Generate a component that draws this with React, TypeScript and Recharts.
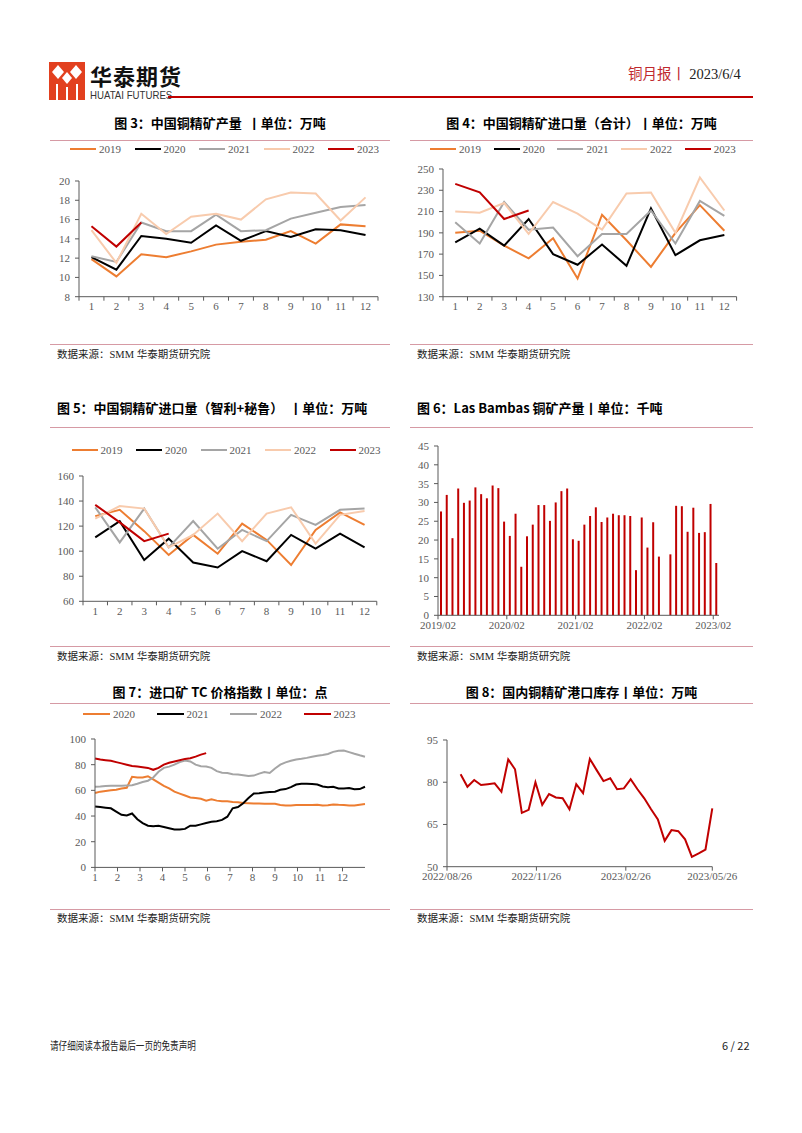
import React from 'react';
import { LineChart, Line, BarChart, Bar, XAxis, YAxis } from 'recharts';

const SERIF = '"Liberation Serif", "Times New Roman", serif';
const SANS = '"Noto Sans CJK SC", "Noto Sans", sans-serif';
const AXIS = '#595959';
const TICK = { fontFamily: SERIF, fontSize: 11, fill: '#595959' };

const monthLabels = ['1', '2', '3', '4', '5', '6', '7', '8', '9', '10', '11', '12'];
const yearNames = ['2019', '2020', '2021', '2022', '2023'];
const yearColors = ['#ED7D31', '#000000', '#A5A5A5', '#F8CBAD', '#C00000'];

// 图3 中国铜精矿产量（万吨）
const output2019 = [11.9, 10.1, 12.4, 12.1, 12.7, 13.4, 13.7, 13.9, 14.8, 13.5, 15.5, 15.3];
const output2020 = [12.1, 10.8, 14.3, 14.0, 13.6, 15.4, 13.8, 14.8, 14.2, 15.0, 14.9, 14.4];
const output2021 = [12.2, 11.6, 15.7, 14.8, 14.8, 16.5, 14.8, 14.9, 16.1, 16.7, 17.3, 17.5];
const output2022 = [14.9, 11.5, 16.6, 14.5, 16.3, 16.6, 16.0, 18.1, 18.8, 18.7, 15.9, 18.3];
const output2023 = [15.3, 13.2, 15.7];

// 图4 中国铜精矿进口量（合计）
const import2019 = [190, 192, 178, 166, 185, 147, 207, 183, 158, 190, 216, 192];
const import2020 = [181, 194, 178, 203, 170, 160, 179, 159, 213, 169, 183, 188];
const import2021 = [200, 180, 219, 193, 195, 168, 189, 189, 211, 180, 220, 206];
const import2022 = [210, 209, 218, 189, 219, 208, 193, 227, 228, 190, 242, 211];
const import2023 = [236, 228, 203, 211];

// 图5 中国铜精矿进口量（智利+秘鲁）
const cp2019 = [128, 133, 116, 97, 113, 98, 122, 109, 89, 117, 131, 121];
const cp2020 = [111, 124, 93, 110, 91, 87, 100, 92, 113, 102, 114, 103];
const cp2021 = [135, 107, 134, 103, 124, 102, 117, 108, 129, 121, 133, 134];
const cp2022 = [126, 136, 134, 103, 113, 130, 108, 130, 135, 106, 129, 132];
const cp2023 = [137, 123, 108, 114];

// 图6 Las Bambas 铜矿产量（千吨）
const lbMonths = [
  '2019/02', '2019/03', '2019/04', '2019/05', '2019/06', '2019/07', '2019/08', '2019/09', '2019/10', '2019/11', '2019/12', '2020/01',
  '2020/02', '2020/03', '2020/04', '2020/05', '2020/06', '2020/07', '2020/08', '2020/09', '2020/10', '2020/11', '2020/12', '2021/01',
  '2021/02', '2021/03', '2021/04', '2021/05', '2021/06', '2021/07', '2021/08', '2021/09', '2021/10', '2021/11', '2021/12', '2022/01',
  '2022/02', '2022/03', '2022/04', '2022/05', '2022/06', '2022/07', '2022/08', '2022/09', '2022/10', '2022/11', '2022/12', '2023/01',
  '2023/02',
];
const lbOutput = [
  27.6, 32.0, 20.5, 33.7, 29.9, 30.5, 34.0, 32.2, 31.1, 34.5, 33.8, 24.9,
  21.1, 27.0, 12.9, 21.0, 24.1, 29.3, 29.3, 25.1, 30.0, 33.0, 33.7, 20.2,
  19.8, 24.1, 26.4, 28.7, 24.8, 26.0, 27.0, 26.6, 26.6, 26.4, 12.0, 26.0,
  18.0, 24.7, 15.6, null, 16.2, 29.1, 29.0, 22.2, 28.6, 21.9, 22.1, 29.6,
  13.9,
];

// 图7 进口矿TC价格指数（周度）
const tcYears = ['2020', '2021', '2022', '2023'];
const tcColors = ['#ED7D31', '#000000', '#A5A5A5', '#C00000'];
const weeks = [1, 2, 3, 4, 5, 6, 7, 8, 9, 10, 11, 12, 13, 14, 15, 16, 17, 18, 19, 20, 21, 22, 23, 24, 25, 26,
  27, 28, 29, 30, 31, 32, 33, 34, 35, 36, 37, 38, 39, 40, 41, 42, 43, 44, 45, 46, 47, 48, 49, 50, 51, 52];
const monthTicks = [1, 5.25, 9.5, 13.75, 18, 22.25, 26.5, 30.75, 35, 39.25, 43.5, 47.75];
const tc2020 = [58, 59, 59.5, 60, 60.5, 61.5, 62, 70.5, 70, 70, 71, 68.5, 66, 63.5, 61.5, 59, 57.5, 56, 54.5, 54,
  53.5, 52, 53, 52, 51.5, 51.5, 51, 50.8, 50.2, 50, 49.8, 49.8, 49.5, 49.5, 49.5, 48.6, 48.3, 48.3, 48.5, 48.5,
  48.5, 48.6, 48.8, 48.2, 48.4, 49, 48.7, 48.5, 48.2, 48.3, 48.8, 49.3];
const tc2021 = [47.5, 47, 46.5, 46, 43.5, 41, 40.5, 42, 37.5, 34.5, 32.5, 32, 32.5, 31.5, 30.5, 29.5, 29.5, 30, 32.5,
  32.5, 33.5, 34.5, 35.5, 36, 37, 39.5, 46, 47, 50, 54, 57.5, 57.8, 58.3, 58.7, 59, 60.5, 61, 62.5, 64.5, 65.2,
  65.2, 65, 64.5, 63, 62.5, 62.8, 61.5, 61.5, 61.8, 60.8, 61, 62.8];
const tc2022 = [62.8, 63, 63.3, 63.6, 63.6, 63.6, 63.8, 64, 65.2, 66.5, 67.5, 70, 74.5, 77.5, 78.5, 80, 82, 83.2,
  82.5, 80, 78.8, 78.5, 77.5, 75, 73.8, 73.5, 72.5, 72.3, 71.8, 71.2, 71.5, 73, 74.3, 73.5, 77, 80, 81.8, 83, 84,
  84.6, 85.3, 86.2, 87, 87.6, 88.3, 90, 90.8, 91, 89.8, 88.5, 87.3, 86.2];
const tc2023 = [84.8, 84, 83.5, 83, 82, 81, 80, 79, 78.5, 78, 77.5, 76, 77.5, 80, 81.5, 82.5, 83.5, 84.5, 85, 86.3,
  87.8, 89];

// 图8 国内铜精矿港口库存（万吨）
const stockDates = [
  '2022-09-09', '2022-09-16', '2022-09-23', '2022-09-30', '2022-10-07', '2022-10-14', '2022-10-21', '2022-10-28',
  '2022-11-04', '2022-11-11', '2022-11-18', '2022-11-25', '2022-12-02', '2022-12-09', '2022-12-16', '2022-12-23',
  '2022-12-30', '2023-01-06', '2023-01-13', '2023-01-20', '2023-01-27', '2023-02-03', '2023-02-10', '2023-02-17',
  '2023-02-24', '2023-03-03', '2023-03-10', '2023-03-17', '2023-03-24', '2023-03-31', '2023-04-07', '2023-04-14',
  '2023-04-21', '2023-04-28', '2023-05-05', '2023-05-12', '2023-05-19', '2023-05-26',
];
const stockValues = [82.8, 78.4, 80.8, 79.0, 79.3, 79.6, 76.6, 88.1, 84.6, 69.1, 70.2, 80.0, 72.0, 75.8, 74.6, 74.3,
  70.4, 79.3, 76.1, 88.3, 84.3, 80.4, 81.4, 77.5, 77.8, 81.1, 77.5, 74.3, 70.4, 66.8, 59.2, 63.0, 62.6, 59.7, 53.5,
  54.7, 56.1, 70.7];
const stockTickDates = ['2022-08-26', '2022-11-26', '2023-02-26', '2023-05-26'];
const stockTickLabels = ['2022/08/26', '2022/11/26', '2023/02/26', '2023/05/26'];

const yearKeys = ['y2019', 'y2020', 'y2021', 'y2022', 'y2023'];
function monthRows(series: number[][]) {
  return monthLabels.map((m, i) => {
    const row: any = { m };
    series.forEach((s, k) => { row[yearKeys[k]] = s[i]; });
    return row;
  });
}
const outputData = monthRows([output2019, output2020, output2021, output2022, output2023]);
const importData = monthRows([import2019, import2020, import2021, import2022, import2023]);
const cpData = monthRows([cp2019, cp2020, cp2021, cp2022, cp2023]);
const lbData = lbMonths.map((m, i) => ({ m, v: lbOutput[i] }));
const tcKeys = ['t2020', 't2021', 't2022', 't2023'];
const tcData = weeks.map((w, i) => ({ w, t2020: tc2020[i], t2021: tc2021[i], t2022: tc2022[i], t2023: tc2023[i] }));
const stockData = stockDates.map((d, i) => ({ t: Date.parse(d), v: stockValues[i] }));
const stockTicks = stockTickDates.map((d) => Date.parse(d));

type Rect = { l: number; t: number; r: number; b: number };

// places the chart so that its plot area lands exactly on p
function Frame({ p, children }: { p: Rect; children: (w: number, h: number, margin: any) => React.ReactNode }) {
  const w = p.r - p.l + 70;
  const h = p.b - p.t + 30;
  return (
    <div style={{ position: 'absolute', left: p.l - 40, top: p.t - 10, width: w, height: h }}>
      {children(w, h, { top: 10, right: 30, left: 0, bottom: 0 })}
    </div>
  );
}

// category tick: label at band centre, tick mark on the band edge
function BandTick(props: any) {
  const { x, y, payload, index, bw, last, labelOnEdge } = props;
  const ex = x - bw / 2;
  return (
    <g>
      <line x1={ex} y1={y} x2={ex} y2={y + 4} stroke={AXIS} />
      {last && index === last && <line x1={x + bw / 2} y1={y} x2={x + bw / 2} y2={y + 4} stroke={AXIS} />}
      <text x={labelOnEdge ? ex : x} y={y + 6} dy="0.71em" textAnchor="middle" {...TICK}>
        {payload.value}
      </text>
    </g>
  );
}

function YearLines({ p, data, domain, ticks }: { p: Rect; data: any[]; domain: number[]; ticks: number[] }) {
  const bw = (p.r - p.l) / 12;
  return (
    <Frame p={p}>
      {(w, h, margin) => (
        <LineChart width={w} height={h} data={data} margin={margin}>
          <XAxis dataKey="m" scale="band" height={20} axisLine={{ stroke: AXIS }} tickLine={false}
            tickSize={0} tickMargin={0} interval={0} tick={<BandTick bw={bw} last={11} />} />
          <YAxis width={40} domain={domain} ticks={ticks} axisLine={{ stroke: AXIS }} tickLine={{ stroke: AXIS }}
            tickSize={4} tickMargin={5} tick={TICK} />
          {yearKeys.map((k, i) => (
            <Line key={k} dataKey={k} stroke={yearColors[i]} strokeWidth={2} dot={false} isAnimationActive={false} />
          ))}
        </LineChart>
      )}
    </Frame>
  );
}

function LegendRow({ x, y, step, lineW, names, colors }: any) {
  return (
    <div style={{ position: 'absolute', left: x, top: y - 8, height: 16, display: 'flex', alignItems: 'center' }}>
      {names.map((n: string, i: number) => (
        <div key={n} style={{ width: step, display: 'flex', alignItems: 'center' }}>
          <div style={{ width: lineW, height: 2, background: colors[i], marginRight: 3 }} />
          <span style={{ fontFamily: SERIF, fontSize: 11, color: '#595959' }}>{n}</span>
        </div>
      ))}
    </div>
  );
}

function Title({ x, w, y, text, center }: any) {
  return (
    <div style={{
      position: 'absolute', left: x, top: y - 10, width: w, height: 20, lineHeight: '20px',
      textAlign: center ? 'center' : 'left', fontFamily: SANS, fontWeight: 700, fontSize: 13, color: '#000',
      whiteSpace: 'pre',
    }}>{text}</div>
  );
}

function Rule({ x, w, y, color }: any) {
  return <div style={{ position: 'absolute', left: x, top: y, width: w, height: 1, background: color }} />;
}

function Source({ x, y }: any) {
  return (
    <div style={{ position: 'absolute', left: x, top: y - 8, height: 16, lineHeight: '16px', fontSize: 10.5,
      fontFamily: `${SERIF.split(',')[0]}, ${SANS}`, color: '#222', whiteSpace: 'pre' }}>
      数据来源：SMM 华泰期货研究院
    </div>
  );
}

function Logo() {
  return (
    <svg width={36} height={38} viewBox="0 0 36 38" style={{ position: 'absolute', left: 49, top: 62 }}>
      <rect x={0} y={0} width={36} height={38} fill="#E2401F" />
      <polygon points="9,3 15,10 9,17 3,10" fill="#fff" />
      <polygon points="27,3 33,10 27,17 21,10" fill="#fff" />
      <polygon points="18,10 23,16 18,22 13,16" fill="#fff" />
      <rect x={7} y={22} width={2} height={16} fill="#fff" />
      <rect x={17} y={25} width={2} height={13} fill="#fff" />
      <rect x={27} y={22} width={2} height={16} fill="#fff" />
    </svg>
  );
}

const RULE = '#D69AA4';

export default function App() {
  const p3 = { l: 78.5, t: 181, r: 377.5, b: 296.7 };
  const p4 = { l: 443.4, t: 169, r: 737, b: 296.7 };
  const p5 = { l: 83.4, t: 475.7, r: 377.2, b: 601 };
  const p6 = { l: 438.3, t: 446, r: 719.3, b: 615.3 };
  const p7 = { l: 95, t: 739.3, r: 365, b: 867.7 };
  const p8 = { l: 446.7, t: 740, r: 712, b: 866.7 };
  const bw6 = (p6.r - p6.l) / lbMonths.length;

  return (
    <div style={{ position: 'absolute', left: 0, top: 0, width: 802, height: 1133, background: '#fff', overflow: 'hidden' }}>
      {/* header */}
      <Logo />
      <div style={{ position: 'absolute', left: 90, top: 61, fontFamily: SANS, fontWeight: 700, fontSize: 22,
        letterSpacing: 1, color: '#111', lineHeight: '28px' }}>华泰期货</div>
      <div style={{ position: 'absolute', left: 90, top: 89, fontFamily: '"Liberation Sans", Arial, sans-serif',
        fontSize: 10.5, color: '#333', lineHeight: '12px', transform: 'scaleX(0.92)', transformOrigin: 'left' }}>HUATAI FUTURES</div>
      <div style={{ position: 'absolute', left: 628, top: 64, height: 18, lineHeight: '18px', whiteSpace: 'pre',
        fontSize: 14.5 }}>
        <span style={{ fontFamily: SANS, color: '#C0282D' }}>铜月报丨 </span>
        <span style={{ fontFamily: SERIF, color: '#222' }}>2023/6/4</span>
      </div>
      <div style={{ position: 'absolute', left: 168, top: 96, width: 585, height: 2, background: '#C00000' }} />

      {/* row 1 */}
      <Title x={50} w={340} y={123} text="图 3：中国铜精矿产量  丨单位：万吨" center />
      <Title x={410} w={343} y={123} text="图 4：中国铜精矿进口量（合计）丨单位：万吨" center />
      <Rule x={50} w={340} y={140} color={RULE} />
      <Rule x={410} w={343} y={140} color={RULE} />
      <LegendRow x={70} y={149} step={64.5} lineW={26} names={yearNames} colors={yearColors} />
      <LegendRow x={430} y={149} step={63.7} lineW={26} names={yearNames} colors={yearColors} />
      <YearLines p={p3} data={outputData} domain={[8, 20]} ticks={[8, 10, 12, 14, 16, 18, 20]} />
      <YearLines p={p4} data={importData} domain={[130, 250]} ticks={[130, 150, 170, 190, 210, 230, 250]} />
      <Rule x={50} w={340} y={344} color={RULE} />
      <Rule x={410} w={343} y={344} color={RULE} />
      <Source x={57} y={355} />
      <Source x={417} y={355} />

      {/* row 2 */}
      <Title x={57} w={340} y={408} text="图 5：中国铜精矿进口量（智利+秘鲁）  丨单位：万吨" />
      <Title x={417} w={340} y={408} text="图 6：Las Bambas 铜矿产量丨单位：千吨" />
      <Rule x={50} w={340} y={427} color={RULE} />
      <Rule x={410} w={343} y={427} color={RULE} />
      <LegendRow x={71.5} y={450} step={64.5} lineW={26} names={yearNames} colors={yearColors} />
      <YearLines p={p5} data={cpData} domain={[60, 160]} ticks={[60, 80, 100, 120, 140, 160]} />
      <Frame p={p6}>
        {(w, h, margin) => (
          <BarChart width={w} height={h} data={lbData} margin={margin} barCategoryGap={0}>
            <XAxis dataKey="m" height={20} axisLine={{ stroke: AXIS }} tickLine={false} tickSize={0} tickMargin={0}
              interval={11} tick={<BandTick bw={bw6} labelOnEdge />} />
            <YAxis width={40} domain={[0, 45]} ticks={[0, 5, 10, 15, 20, 25, 30, 35, 40, 45]} axisLine={{ stroke: AXIS }}
              tickLine={{ stroke: AXIS }} tickSize={4} tickMargin={5} tick={TICK} />
            <Bar dataKey="v" fill="#C00000" barSize={2} isAnimationActive={false} />
          </BarChart>
        )}
      </Frame>
      <Rule x={50} w={340} y={646} color={RULE} />
      <Rule x={410} w={343} y={646} color={RULE} />
      <Source x={57} y={657} />
      <Source x={417} y={657} />

      {/* row 3 */}
      <Title x={50} w={340} y={692} text="图 7：进口矿 TC 价格指数丨单位：点" center />
      <Title x={410} w={343} y={692} text="图 8：国内铜精矿港口库存丨单位：万吨" center />
      <Rule x={50} w={340} y={703} color={RULE} />
      <Rule x={410} w={343} y={703} color={RULE} />
      <LegendRow x={83} y={714} step={73.5} lineW={27} names={tcYears} colors={tcColors} />
      <Frame p={p7}>
        {(w, h, margin) => (
          <LineChart width={w} height={h} data={tcData} margin={margin}>
            <XAxis dataKey="w" type="number" domain={[1, 52]} ticks={monthTicks} interval={0} height={20}
              axisLine={{ stroke: AXIS }} tickLine={{ stroke: AXIS }} tickSize={4} tickMargin={2} tick={TICK}
              tickFormatter={(v: number, i: number) => monthLabels[i]} />
            <YAxis width={40} domain={[0, 100]} ticks={[0, 20, 40, 60, 80, 100]} axisLine={{ stroke: AXIS }}
              tickLine={{ stroke: AXIS }} tickSize={4} tickMargin={5} tick={TICK} />
            {tcKeys.map((k, i) => (
              <Line key={k} dataKey={k} stroke={tcColors[i]} strokeWidth={2} dot={false} isAnimationActive={false} />
            ))}
          </LineChart>
        )}
      </Frame>
      <Frame p={p8}>
        {(w, h, margin) => (
          <LineChart width={w} height={h} data={stockData} margin={margin}>
            <XAxis dataKey="t" type="number" scale="time" domain={[stockTicks[0], stockTicks[3]]} ticks={stockTicks}
              interval={0} height={20} axisLine={{ stroke: AXIS }} tickLine={{ stroke: AXIS }} tickSize={4}
              tickMargin={2} tick={TICK} tickFormatter={(v: number, i: number) => stockTickLabels[i]} />
            <YAxis width={40} domain={[50, 95]} ticks={[50, 65, 80, 95]} axisLine={{ stroke: AXIS }}
              tickLine={{ stroke: AXIS }} tickSize={4} tickMargin={5} tick={TICK} />
            <Line dataKey="v" stroke="#C00000" strokeWidth={2} dot={false} isAnimationActive={false} />
          </LineChart>
        )}
      </Frame>
      <Rule x={50} w={340} y={909} color={RULE} />
      <Rule x={410} w={343} y={909} color={RULE} />
      <Source x={57} y={919} />
      <Source x={417} y={919} />

      {/* footer */}
      <div style={{ position: 'absolute', left: 50, top: 1037, fontFamily: SANS, fontSize: 11, color: '#222',
        lineHeight: '16px', transform: 'scaleX(0.78)', transformOrigin: 'left', whiteSpace: 'pre' }}>请仔细阅读本报告最后一页的免责声明</div>
      <div style={{ position: 'absolute', left: 722, top: 1037, fontFamily: SANS, fontSize: 11, color: '#222',
        lineHeight: '16px', whiteSpace: 'pre' }}>6 / 22</div>
    </div>
  );
}
